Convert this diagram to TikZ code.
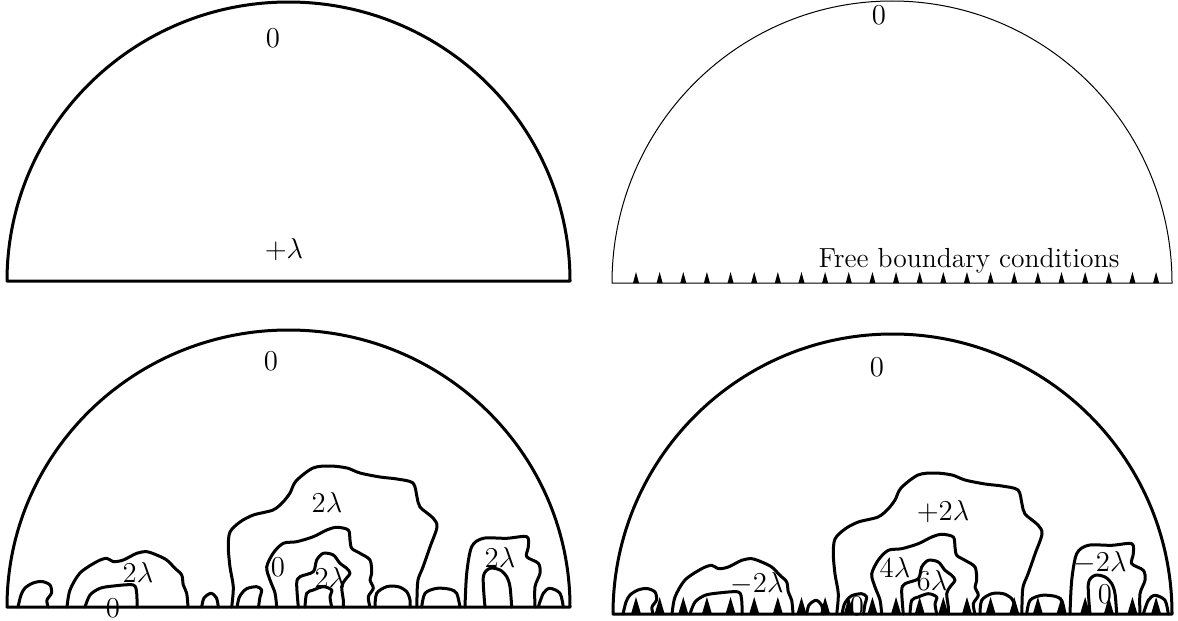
\documentclass[tikz,border=0pt]{standalone}
\usepackage{amsmath}
\usetikzlibrary{calc}

% cluster boundaries, drawn in the frame of the lower-left half disc
\newcommand{\clusterlines}{%
  \draw[contour] plot[smooth] coordinates {(18,607) (21,595) (25,588) (33,583) (42,581.5) (50,585) (51.5,593) (47,600) (48,607)};
  \draw[contour] plot[smooth] coordinates {(67,607) (70,590) (80,573) (96.7,561.7) (106.7,558.3) (113.3,561.7) (123.3,560) (136.7,553.3) (146.7,551.7) (156.7,555) (166.7,560) (175,568.3) (181.7,575) (183.3,585) (186.7,593.3) (188,607)};
  \draw[contour] plot[smooth] coordinates {(85,607) (90,595) (100,588.3) (113.3,586) (133.3,585) (136.7,593.3) (137,607)};
  \draw[contour] plot[smooth] coordinates {(201.7,607) (204,598) (211,593.3) (216.5,598) (218.3,607)};
  \draw[contour] plot[smooth] coordinates {(237,607) (239,598) (242,593) (247,588.5) (256.7,586.7) (261.7,590) (260,597) (258.5,607)};
  \draw[contour] plot[smooth] coordinates {(231.7,607) (233.3,587) (230,567) (228.3,547) (230,532) (240,522) (253.3,515) (273,510) (283,502) (290,493) (296,481) (313,468) (330,466) (347,468) (360,473) (380,477) (397,479) (413,483) (417,497) (420,507) (433,518) (437,527) (430,547) (423,567) (418,580) (417,597) (417,607)};
  \draw[contour] plot[smooth] coordinates {(276.7,607) (275,593) (270,580) (266.7,567) (273.3,553) (283.3,543.3) (296.7,541.7) (313.3,536.7) (326.7,530) (336.7,527.3) (348.3,530) (350,540) (351.7,548.3) (360,553.3) (370,560) (371.7,573.3) (370,580) (373.3,588.3) (368.3,596.7) (370,607)};
  \draw[contour] plot[smooth] coordinates {(298.3,607) (296.7,583.3) (300,576.7) (313.3,571.7) (316.7,560) (323.3,553.3) (333.3,555) (340,563.3) (346.7,568.3) (350,573.3) (345,580) (341.7,586.7) (343.3,600) (343.3,607)};
  \draw[contour] plot[smooth] coordinates {(305,607) (306.7,593.3) (313.3,590) (323.3,586.7) (331.7,590) (330,596.7) (331.7,607)};
  \draw[contour] plot[smooth] coordinates {(375,607) (376.7,593.3) (386.7,586.7) (398.3,586.7) (406.7,591.7) (410,600) (410,607)};
  \draw[contour] plot[smooth] coordinates {(421.7,607) (425,593.3) (436.7,588.3) (450,589.3) (456.7,593.3) (460,607)};
  \draw[contour] plot[smooth] coordinates {(465,607) (466.7,573.3) (471.7,546.7) (483.3,538.3) (506.7,538.3) (526.7,536.7) (528.3,546.7) (526.7,556.7) (538.3,563.3) (540,573.3) (535,586.7) (535,607)};
  \draw[contour] plot[smooth] coordinates {(485,607) (483.3,576.7) (490,568.3) (500,570) (506.7,576.7) (510,586.7) (511.7,607)};
  \draw[contour] plot[smooth] coordinates {(538.3,607) (543.3,593.3) (550,588.3) (560,593.3) (563.3,607)};
}

\begin{document}
\begin{tikzpicture}[
    x=0.5pt, y=-0.5pt,
    font=\fontsize{13.8}{16.5}\selectfont,
    rim/.style={line width=1.5pt, line join=round},
    thinrim/.style={line width=0.5pt},
    contour/.style={line width=1.5pt, line join=round, line cap=round},
    lbl/.style={inner sep=0pt},
    spike/.pic={\fill (-3,0) -- (0,-11) -- (3,0) -- cycle;},
    bigspike/.pic={\fill (-5,0) -- (0,-17) -- (5,0) -- cycle;}
  ]
  \useasboundingbox (0,0) rectangle (1178,621);

  % ===== top left: plus boundary =====
  \draw[rim] (7,281) arc[start angle=180, end angle=360, x radius=281.5, y radius=279] -- cycle;
  \node[lbl] (tlTop) at (273,38) {$0$};
  \node[lbl] (tlBase) at (284,250) {$+\lambda$};

  % ===== top right: free boundary =====
  \draw[thinrim] (612,283) arc[start angle=180, end angle=360, x radius=280, y radius=282] -- cycle;
  \foreach \k in {0,...,22}
    \pic at ({636+23.64*\k},283) {spike};
  \node[lbl] (trTop) at (879,15) {$0$};
  \node[lbl, anchor=base] (trFree) at (969,267) {Free boundary conditions};

  % ===== bottom left: clusters on plus boundary =====
  \draw[rim] (7,607) arc[start angle=180, end angle=360, x radius=281.5, y radius=277] -- cycle;
  \clusterlines
  \node[lbl] (blTop) at (271,361) {$0$};
  \node[lbl] (blBig) at (327,502) {$2\lambda$};
  \node[lbl] (blLeft) at (138,572) {$2\lambda$};
  \node[lbl] (blLeftIn) at (113,608) {$0$};
  \node[lbl] (blMid) at (278,567) {$0$};
  \node[lbl] (blMidIn) at (330,577) {$2\lambda$};
  \node[lbl] (blRight) at (500,557) {$2\lambda$};

  % ===== bottom right: clusters on free boundary =====
  \draw[rim] (613,614) arc[start angle=180, end angle=360, x radius=279.5, y radius=280] -- cycle;
  \begin{scope}[shift={(605,7)}]
    \clusterlines
  \end{scope}
  \foreach \k in {0,...,22}
    \pic at ({636+23.64*\k},614) {bigspike};
  \node[lbl] (brTop) at (877,367) {$0$};
  \node[lbl] (brBig) at (943,512) {$+2\lambda$};
  \node[lbl] (brLeft) at (757,584) {$-2\lambda$};
  \node[lbl] (brMid) at (895,567) {$4\lambda$};
  \node[lbl] (brMidIn) at (932,580) {$6\lambda$};
  \node[lbl] (brFoot) at (857,606) {$0$};
  \node[lbl] (brRight) at (1100,563) {$-2\lambda$};
  \node[lbl] (brRightIn) at (1105,594) {$0$};
\end{tikzpicture}
\end{document}
